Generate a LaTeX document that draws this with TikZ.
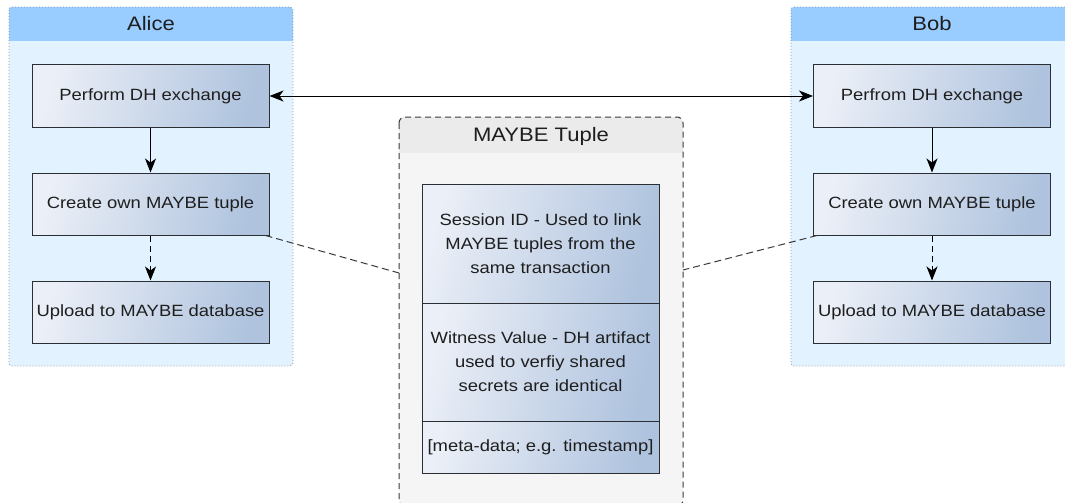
\documentclass[tikz,border=0pt]{standalone}
\usepackage{fontspec}
\setmainfont{Liberation Sans}[FakeStretch=1.13]
\usetikzlibrary{arrows.meta,calc}

\definecolor{laneHead}{HTML}{99CCFF}
\definecolor{laneBody}{HTML}{E3F2FF}
\definecolor{laneEdge}{HTML}{8C9BAA}
\definecolor{gradL}{HTML}{EBEFF7}
\definecolor{gradR}{HTML}{AFC3DE}
\definecolor{boxEdge}{HTML}{2B2E33}
\definecolor{txt}{HTML}{1E1E1E}
\definecolor{groupBody}{HTML}{F5F5F5}
\definecolor{groupHead}{HTML}{EBEBEB}
\definecolor{groupEdge}{HTML}{3A3A3A}

\tikzset{
  stepbox/.style={draw=boxEdge, line width=1pt, left color=gradL, right color=gradR,
    shading angle=75, minimum width=237pt, minimum height=62pt, inner sep=0pt,
    text=txt, font=\fontsize{16.3}{24}\selectfont},
  cellbox/.style={draw=boxEdge, line width=1pt, left color=gradL, right color=gradR,
    shading angle=75, minimum width=237pt, inner sep=0pt, text=txt, align=center,
    font=\fontsize{16.3}{24}\selectfont},
  lanetitle/.style={text=txt, font=\fontsize{19.5}{22}\selectfont, inner sep=0pt},
  flow/.style={draw=black, line width=1pt, -{Stealth[length=14pt,width=11pt,inset=4pt]}},
  flowdash/.style={flow, dash pattern=on 6pt off 4pt},
  link/.style={draw=groupEdge, line width=1pt, dash pattern=on 7pt off 4pt},
}

\begin{document}
\begin{tikzpicture}[x=1pt,y=-1pt]
\clip (0,0) rectangle (1065,503);
\fill[white] (0,0) rectangle (1065,503);

% swimlane: Alice
\begin{scope}
  \clip[rounded corners=3pt] (9,7) rectangle (293,366);
  \fill[laneBody] (9,7) rectangle (293,366);
  \fill[laneHead] (9,7) rectangle (293,41);
\end{scope}
\draw[laneEdge, line width=0.8pt, dash pattern=on 1pt off 2pt, rounded corners=3pt]
  (9,7) rectangle (293,366);
\node[lanetitle] (aliceT) at (151,24) {Alice};

% swimlane: Bob
\begin{scope}
  \clip[rounded corners=3pt] (791,7) rectangle (1075,366);
  \fill[laneBody] (791,7) rectangle (1075,366);
  \fill[laneHead] (791,7) rectangle (1075,41);
\end{scope}
\draw[laneEdge, line width=0.8pt, dash pattern=on 1pt off 2pt, rounded corners=3pt]
  (791,7) rectangle (1075,366);
\node[lanetitle] (bobT) at (932,24) {Bob};

% group: MAYBE tuple
\begin{scope}
  \clip[rounded corners=6pt] (399,117) rectangle (683,506);
  \fill[groupBody] (399,117) rectangle (683,506);
  \fill[groupHead] (399,117) rectangle (683,153);
\end{scope}
\draw[groupEdge, line width=1pt, dash pattern=on 6pt off 4pt, rounded corners=6pt]
  (399,117) rectangle (683,506);
\node[lanetitle] (tupleT) at (541,136) {MAYBE Tuple};

% Alice steps
\node[stepbox] (a1) at (150.5,96)  {Perform DH exchange};
\node[stepbox] (a2) at (150.5,204) {Create own MAYBE tuple};
\node[stepbox] (a3) at (150.5,312) {Upload to MAYBE database};

% Bob steps
\node[stepbox] (b1) at (932,96)  {Perfrom DH exchange};
\node[stepbox] (b2) at (932,204) {Create own MAYBE tuple};
\node[stepbox] (b3) at (932,312) {Upload to MAYBE database};

% tuple fields
\node[cellbox, minimum height=119pt] (c1) at (540.5,243.5)
  {Session ID - Used to link\\MAYBE tuples from the\\same transaction};
\node[cellbox, minimum height=118pt] (c2) at (540.5,362)
  {Witness Value - DH artifact\\used to verfiy shared\\secrets are identical};
\node[cellbox, minimum height=52pt] (c3) at (540.5,447)
  {[meta-data; e.g. timestamp]};

% connectors
\draw[flow, {Stealth[length=14pt,width=11pt,inset=4pt]}-{Stealth[length=14pt,width=11pt,inset=4pt]}]
  (a1.east) -- (b1.west);
\draw[flow] (a1.south) -- (a2.north);
\draw[flowdash] (a2.south) -- (a3.north);
\draw[flow] (b1.south) -- (b2.north);
\draw[flowdash] (b2.south) -- (b3.north);

\coordinate (tupleL) at (399,273);
\coordinate (tupleR) at (683,270);
\draw[link] ($(a2.south east)+(-4,0)$) -- (tupleL);
\draw[link] ($(b2.south west)+(4,0)$) -- (tupleR);
\end{tikzpicture}
\end{document}
